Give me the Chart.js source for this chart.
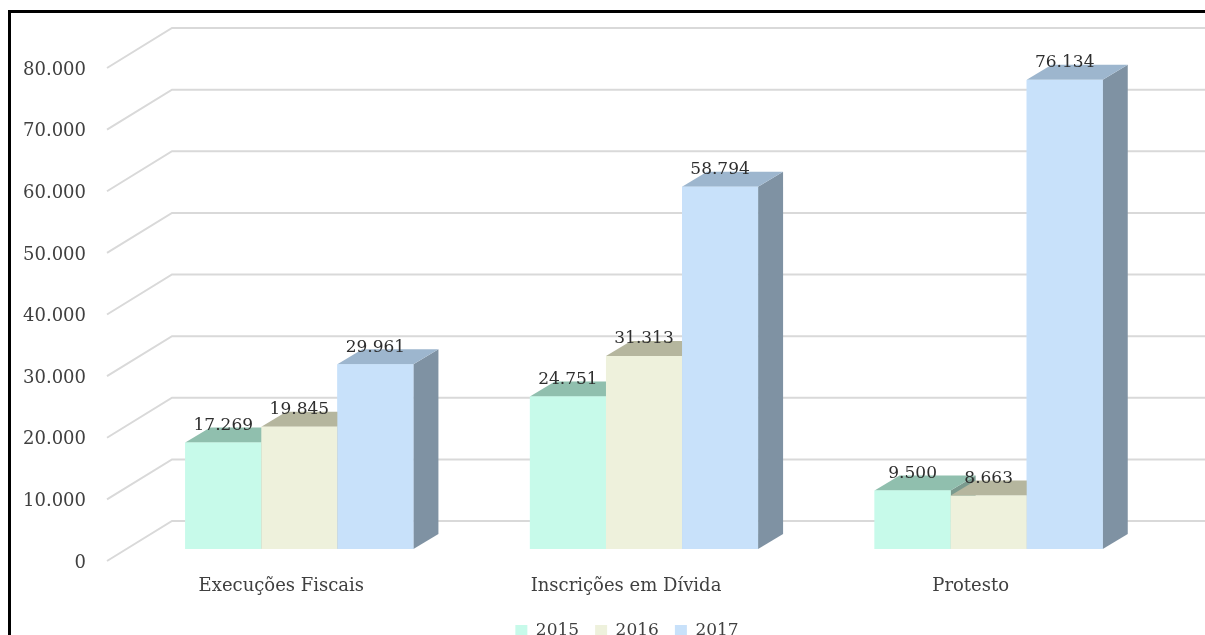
<!DOCTYPE html>
<html>
<head>
<meta charset="utf-8">
<script src="https://cdn.jsdelivr.net/npm/chart.js@4/dist/chart.umd.min.js"></script>
<style>
  body { margin: 0; background: #fff; overflow: hidden; }
  #wrap { position: relative; width: 1205px; height: 635px; overflow: hidden; }
  #frame { position: absolute; left: 8px; top: 10px; width: 1300px; height: 700px;
           border-left: 3px solid #000; border-top: 3px solid #000; pointer-events: none; }
  canvas { position: absolute; left: 0; top: 0; }
</style>
</head>
<body>
<div id="wrap">
  <canvas id="chart" width="1205" height="649"></canvas>
  <div id="frame"></div>
</div>
<script>
const categories = ['Execuções Fiscais', 'Inscrições em Dívida', 'Protesto'];
const years = ['2015', '2016', '2017'];
const values2015 = [17269, 24751, 9500];
const values2016 = [19845, 31313, 8663];
const values2017 = [29961, 58794, 76134];
const yTicks = [0, 10000, 20000, 30000, 40000, 50000, 60000, 70000, 80000];

const frontColors = ['#c7faea', '#eef1dc', '#c8e1fa'];
const topColors = ['#90bfae', '#b5b69e', '#9db6ce'];
const sideColors = ['#7a9a8e', '#9a9b85', '#7f92a3'];

const FONT = 'DejaVu Serif';
const TEXT = '#404040';
const DEPTH_X = 25, DEPTH_Y = -15;

function fmt(n) {
  return String(n).replace(/\B(?=(\d{3})+(?!\d))/g, '.');
}

const threeD = {
  id: 'threeD',
  afterLayout(chart) {
    // legend sits a bit left of the plot centre in the original
    chart.legend.left -= 17;
    chart.legend.right -= 17;
  },
  beforeDatasetsDraw(chart) {
    const ctx = chart.ctx;
    const y = chart.scales.y;
    const area = chart.chartArea;
    ctx.save();
    ctx.strokeStyle = '#d9d9d9';
    ctx.lineWidth = 2;
    yTicks.forEach(v => {
      const py = y.getPixelForValue(v);
      ctx.beginPath();
      ctx.moveTo(area.left - 20, py + 12);
      ctx.lineTo(area.left + 45, py - 28);
      ctx.lineTo(chart.width, py - 28);
      ctx.stroke();
    });
    ctx.restore();
  },
  afterDatasetsDraw(chart) {
    const ctx = chart.ctx;
    const n = chart.data.datasets.length;
    ctx.save();
    categories.forEach((c, j) => {
      for (let i = 0; i < n; i++) {
        const bar = chart.getDatasetMeta(i).data[j];
        const l = bar.x - bar.width / 2, r = bar.x + bar.width / 2;
        const t = bar.y, b = bar.base;
        // side
        ctx.fillStyle = sideColors[i];
        ctx.beginPath();
        ctx.moveTo(r, t); ctx.lineTo(r + DEPTH_X, t + DEPTH_Y);
        ctx.lineTo(r + DEPTH_X, b + DEPTH_Y); ctx.lineTo(r, b);
        ctx.closePath(); ctx.fill();
        // top
        ctx.fillStyle = topColors[i];
        ctx.beginPath();
        ctx.moveTo(l, t); ctx.lineTo(l + DEPTH_X, t + DEPTH_Y);
        ctx.lineTo(r + DEPTH_X, t + DEPTH_Y); ctx.lineTo(r, t);
        ctx.closePath(); ctx.fill();
        // front
        ctx.fillStyle = frontColors[i];
        ctx.fillRect(l, t, r - l, b - t);
      }
    });
    // value labels
    ctx.fillStyle = '#2e2e2e';
    ctx.font = '17px "' + FONT + '"';
    ctx.textAlign = 'center';
    ctx.textBaseline = 'middle';
    chart.data.datasets.forEach((ds, i) => {
      chart.getDatasetMeta(i).data.forEach((bar, j) => {
        ctx.fillText(fmt(ds.data[j]), bar.x, bar.y - 17);
      });
    });
    ctx.restore();
  }
};

new Chart(document.getElementById('chart'), {
  type: 'bar',
  data: {
    labels: categories,
    datasets: [
      { label: years[0], data: values2015, backgroundColor: frontColors[0] },
      { label: years[1], data: values2016, backgroundColor: frontColors[1] },
      { label: years[2], data: values2017, backgroundColor: frontColors[2] }
    ]
  },
  options: {
    responsive: false,
    animation: false,
    events: [],
    layout: { padding: { left: 10, right: 44, top: 56, bottom: 0 } },
    datasets: { bar: { barPercentage: 1, categoryPercentage: 0.662 } },
    scales: {
      x: {
        grid: { display: false, drawTicks: false },
        border: { display: false },
        afterFit(scale) { scale.height = 57; },
        ticks: { color: TEXT, font: { family: FONT, size: 18 }, padding: 27, labelOffset: -18 }
      },
      y: {
        min: 0, max: 80000,
        grid: { display: false, drawTicks: false },
        border: { display: false },
        afterFit(scale) { scale.width = 117; },
        ticks: {
          stepSize: 10000, color: TEXT, padding: 41, labelOffset: 14,
          font: { family: FONT, size: 18 },
          callback: v => fmt(v)
        }
      }
    },
    plugins: {
      legend: {
        position: 'bottom',
        fullSize: false,
        labels: { color: TEXT, font: { family: FONT, size: 17 }, boxWidth: 12, boxHeight: 11, padding: 16 }
      },
      tooltip: { enabled: false }
    }
  },
  plugins: [threeD]
});
</script>
</body>
</html>
